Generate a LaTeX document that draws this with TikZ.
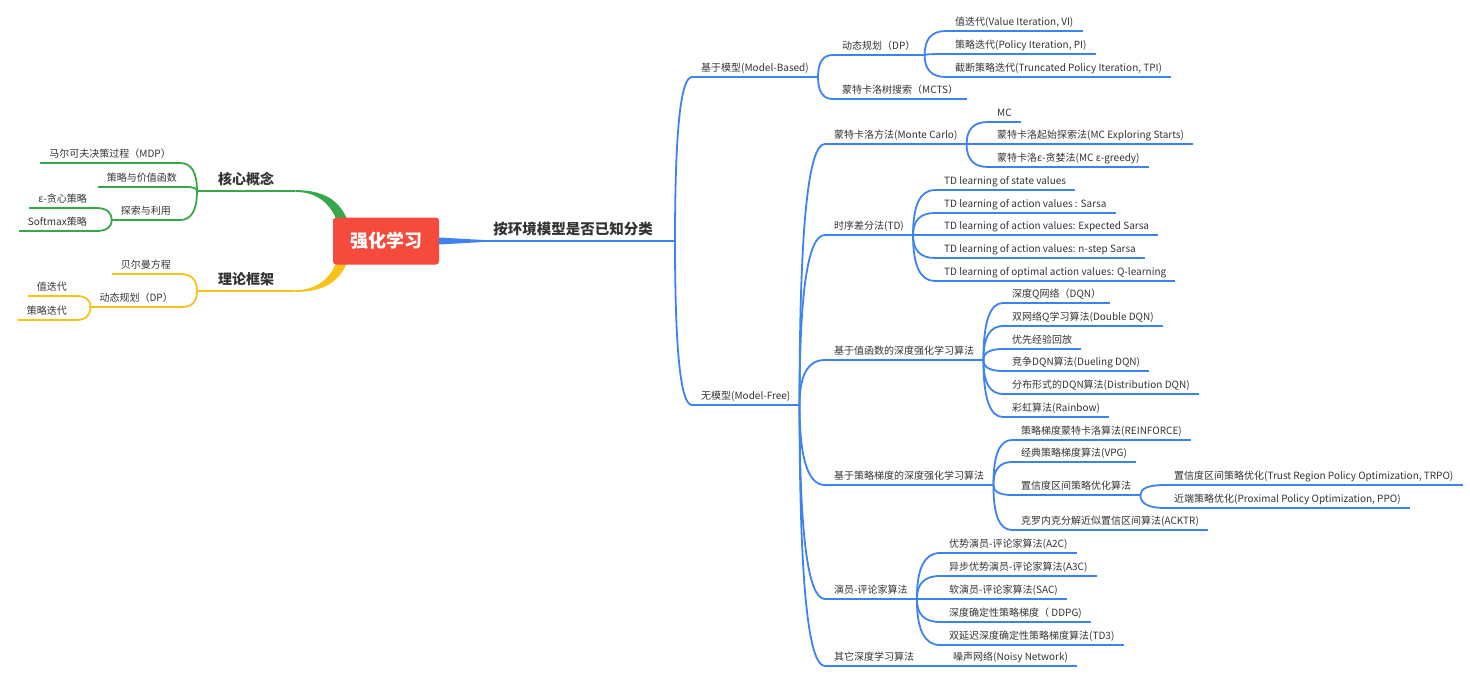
\documentclass[tikz,border=0pt]{standalone}
\usepackage{fontspec}
\setmainfont{Noto Sans CJK SC}
\usetikzlibrary{backgrounds,calc}
\definecolor{MMBlue}{HTML}{3C82F0}
\definecolor{MMGreen}{HTML}{37A84A}
\definecolor{MMYellow}{HTML}{F7C21A}
\definecolor{MMRed}{HTML}{F44B3C}
\definecolor{MMText}{HTML}{333333}
\tikzset{
  uline/.style={append after command={(\tikzlastnode.south west) edge[draw=#1,line width=1.8pt] (\tikzlastnode.south east)}},
  leaf/.style={uline=#1,font=\fontsize{10}{12}\selectfont,text=MMText,inner xsep=9pt,inner ysep=3pt,text height=8pt,text depth=2pt},
  branch/.style={uline=#1,font=\fontsize{14}{16}\selectfont\bfseries,text=MMText,minimum width=98pt,inner ysep=5pt},
  clsbox/.style={font=\fontsize{14.5}{17}\selectfont\bfseries,text=MMText,inner xsep=22pt,inner ysep=5pt},
  rootbox/.style={fill=MMRed,rounded corners=3pt,minimum width=106pt,minimum height=47pt,text=white,font=\fontsize{18}{20}\selectfont\bfseries},
  ln/.style={draw=#1,line width=1.8pt,line cap=round}
}

\begin{document}
\begin{tikzpicture}[x=1pt,y=-1pt]
\path[use as bounding box] (0,0) rectangle (1470,690);
\node[rootbox] (root) at (386,241) {强化学习};
\node[clsbox,anchor=south east] (cls) at (675,241) {按环境模型是否已知分类};

\node[branch=MMGreen,anchor=south west] (cc) at (197,191) {核心概念};
\node[leaf=MMGreen,anchor=south east] (mdp) at (180,163) {马尔可夫决策过程（MDP）};
\node[leaf=MMGreen,anchor=south east] (pv) at (186,187) {策略与价值函数};
\node[leaf=MMGreen,anchor=south east] (expl) at (180,220) {探索与利用};
\node[leaf=MMGreen,anchor=south east] (eps) at (96,208) {ε-贪心策略};
\node[leaf=MMGreen,anchor=south east] (soft) at (96,231) {Softmax策略};

\node[branch=MMYellow,anchor=south west] (tf) at (197,291) {理论框架};
\node[leaf=MMYellow,anchor=south east] (bell) at (180,274) {贝尔曼方程};
\node[leaf=MMYellow,anchor=south east] (dpl) at (182,307) {动态规划（DP）};
\node[leaf=MMYellow,anchor=south east] (lvi) at (76,296) {值迭代};
\node[leaf=MMYellow,anchor=south east] (lpi) at (76,320) {策略迭代};

\node[leaf=MMBlue,anchor=south west] (mb) at (692,77) {基于模型(Model-Based)};
\node[leaf=MMBlue,anchor=south west] (dpr) at (833,55) {动态规划（DP）};
\node[leaf=MMBlue,anchor=south west] (vi) at (946,31) {值迭代(Value Iteration, VI)};
\node[leaf=MMBlue,anchor=south west] (pi) at (946,54) {策略迭代(Policy Iteration, PI)};
\node[leaf=MMBlue,anchor=south west] (tpi) at (946,77) {截断策略迭代(Truncated Policy Iteration, TPI)};
\node[leaf=MMBlue,anchor=south west] (mcts) at (833,99) {蒙特卡洛树搜索（MCTS）};

\node[leaf=MMBlue,anchor=south west] (mf) at (692,405) {无模型(Model-Free)};
\node[leaf=MMBlue,anchor=south west] (mc) at (825,144) {蒙特卡洛方法(Monte Carlo)};
\node[leaf=MMBlue,anchor=south west] (mc1) at (988,122) {MC};
\node[leaf=MMBlue,anchor=south west] (mc2) at (988,144) {蒙特卡洛起始探索法(MC Exploring Starts)};
\node[leaf=MMBlue,anchor=south west] (mc3) at (988,167) {蒙特卡洛ε-贪婪法(MC ε-greedy)};
\node[leaf=MMBlue,anchor=south west] (td) at (825,235) {时序差分法(TD)};
\node[leaf=MMBlue,anchor=south west] (td1) at (935,190) {TD learning of state values};
\node[leaf=MMBlue,anchor=south west] (td2) at (935,213) {TD learning of action values : Sarsa};
\node[leaf=MMBlue,anchor=south west] (td3) at (935,235) {TD learning of action values: Expected Sarsa};
\node[leaf=MMBlue,anchor=south west] (td4) at (935,258) {TD learning of action values: n-step Sarsa};
\node[leaf=MMBlue,anchor=south west] (td5) at (935,281) {TD learning of optimal action values: Q-learning};
\node[leaf=MMBlue,anchor=south west] (vd) at (825,360) {基于值函数的深度强化学习算法};
\node[leaf=MMBlue,anchor=south west] (vd1) at (1003,303) {深度Q网络（DQN）};
\node[leaf=MMBlue,anchor=south west] (vd2) at (1003,326) {双网络Q学习算法(Double DQN)};
\node[leaf=MMBlue,anchor=south west] (vd3) at (1003,349) {优先经验回放};
\node[leaf=MMBlue,anchor=south west] (vd4) at (1003,371) {竞争DQN算法(Dueling DQN)};
\node[leaf=MMBlue,anchor=south west] (vd5) at (1003,394) {分布形式的DQN算法(Distribution DQN)};
\node[leaf=MMBlue,anchor=south west] (vd6) at (1003,417) {彩虹算法(Rainbow)};
\node[leaf=MMBlue,anchor=south west] (pg) at (825,485) {基于策略梯度的深度强化学习算法};
\node[leaf=MMBlue,anchor=south west] (pg1) at (1012,440) {策略梯度蒙特卡洛算法(REINFORCE)};
\node[leaf=MMBlue,anchor=south west] (pg2) at (1012,462) {经典策略梯度算法(VPG)};
\node[leaf=MMBlue,anchor=south west] (pg3) at (1012,495) {置信度区间策略优化算法};
\node[leaf=MMBlue,anchor=south west] (trpo) at (1165,485) {置信度区间策略优化(Trust Region Policy Optimization, TRPO)};
\node[leaf=MMBlue,anchor=south west] (ppo) at (1165,508) {近端策略优化(Proximal Policy Optimization, PPO)};
\node[leaf=MMBlue,anchor=south west] (pg4) at (1012,530) {克罗内克分解近似置信区间算法(ACKTR)};
\node[leaf=MMBlue,anchor=south west] (ac) at (825,599) {演员-评论家算法};
\node[leaf=MMBlue,anchor=south west] (ac1) at (940,553) {优势演员-评论家算法(A2C)};
\node[leaf=MMBlue,anchor=south west] (ac2) at (940,576) {异步优势演员-评论家算法(A3C)};
\node[leaf=MMBlue,anchor=south west] (ac3) at (940,599) {软演员-评论家算法(SAC)};
\node[leaf=MMBlue,anchor=south west] (ac4) at (940,622) {深度确定性策略梯度（ DDPG)};
\node[leaf=MMBlue,anchor=south west] (ac5) at (940,645) {双延迟深度确定性策略梯度算法(TD3)};
\node[leaf=MMBlue,anchor=south west] (oth) at (825,666) {其它深度学习算法};
\node[leaf=MMBlue,anchor=south west] (oth1) at (944,666) {噪声网络(Noisy Network)};

\begin{scope}[on background layer]
\fill[MMGreen] ([yshift=0.9pt]cc.south east) .. controls +(27,0) and +(-8,-22) .. ([xshift=15pt,yshift=-4pt]root.north west) -- ([xshift=5pt,yshift=-6pt]root.north west) .. controls +(-6,-18) and +(23,0) .. ([yshift=-0.9pt]cc.south east) -- cycle;
\fill[MMYellow] ([yshift=-0.9pt]tf.south east) .. controls +(27,0) and +(-8,22) .. ([xshift=15pt,yshift=4pt]root.south west) -- ([xshift=5pt,yshift=6pt]root.south west) .. controls +(-6,18) and +(23,0) .. ([yshift=0.9pt]tf.south east) -- cycle;
\fill[MMBlue] ([yshift=3.5pt]root.east) -- ([xshift=46pt,yshift=0.9pt]root.east) -- ([xshift=46pt,yshift=-0.9pt]root.east) -- ([yshift=-3.5pt]root.east) -- cycle;
\end{scope}
\draw[ln=MMBlue] (root.east) -- (cls.south east);

\foreach \p/\c in {cc/mdp,cc/pv,cc/expl,expl/eps,expl/soft}
  \draw[ln=MMGreen] (\p.south west) .. controls ($(\p.south west)!0.67!(\p.south west |- \c.south east)$) and ($(\c.south east)!0.67!(\p.south west |- \c.south east)$) .. (\c.south east);
\foreach \p/\c in {tf/bell,tf/dpl,dpl/lvi,dpl/lpi}
  \draw[ln=MMYellow] (\p.south west) .. controls ($(\p.south west)!0.67!(\p.south west |- \c.south east)$) and ($(\c.south east)!0.67!(\p.south west |- \c.south east)$) .. (\c.south east);
\foreach \c in {mb,mf}
  \draw[ln=MMBlue] (cls.south east) .. controls ($(cls.south east)!0.67!(cls.south east |- \c.south west)$) and ($(\c.south west)!0.67!(cls.south east |- \c.south west)$) .. (\c.south west);
\foreach \p/\c in {mb/dpr,mb/mcts,dpr/vi,dpr/pi,dpr/tpi,mf/mc,mf/td,mf/vd,mf/pg,mf/ac,mf/oth,mc/mc1,mc/mc2,mc/mc3,td/td1,td/td2,td/td3,td/td4,td/td5,vd/vd1,vd/vd2,vd/vd3,vd/vd4,vd/vd5,vd/vd6,pg/pg1,pg/pg2,pg/pg3,pg/pg4,pg3/trpo,pg3/ppo,ac/ac1,ac/ac2,ac/ac3,ac/ac4,ac/ac5,oth/oth1}
  \draw[ln=MMBlue] (\p.south east) .. controls ($(\p.south east)!0.67!(\p.south east |- \c.south west)$) and ($(\c.south west)!0.67!(\p.south east |- \c.south west)$) .. (\c.south west);
\end{tikzpicture}
\end{document}
